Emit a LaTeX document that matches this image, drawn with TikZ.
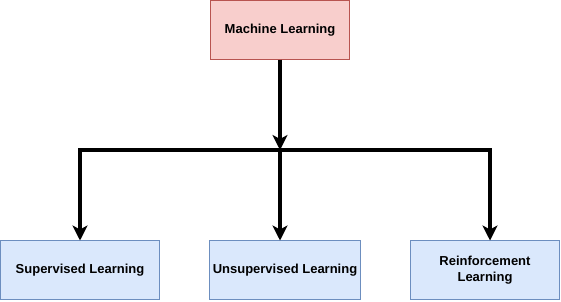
\documentclass[tikz,border=0pt]{standalone}
\usepackage{fontspec}
\setmainfont{Liberation Sans}
\usetikzlibrary{arrows.meta,positioning}

\definecolor{rootfill}{HTML}{F8CECC}
\definecolor{rootline}{HTML}{B85450}
\definecolor{leaffill}{HTML}{DAE8FC}
\definecolor{leafline}{HTML}{6C8EBF}

\begin{document}
\begin{tikzpicture}[x=1pt, y=-1pt,
    rootbox/.style={draw=rootline, fill=rootfill, line width=1pt, outer sep=0pt,
      minimum width=139pt, minimum height=59pt, align=center,
      font=\fontsize{13}{16}\selectfont\bfseries},
    leafbox/.style={draw=leafline, fill=leaffill, line width=1pt, outer sep=0pt,
      minimum width=149pt, minimum height=59pt, align=center,
      font=\fontsize{13}{16}\selectfont\bfseries},
    link/.style={line width=3.2pt, -{Stealth[length=15pt, width=15pt, inset=4pt]}}]
  \useasboundingbox (0,0) rectangle (561,301);

  % Wurzel
  \node[rootbox] (ml) at (280,30) {Machine Learning};

  % Drei Zweige
  \node[leafbox, minimum width=159pt] (sup) at (80,270) {Supervised Learning};
  \node[leafbox] (uns) at (285,270) {Unsupervised Learning};
  \node[leafbox] (rl) at (485,270) {Reinforcement\\Learning};

  % Verbindungen
  \coordinate (split) at (280,150);
  \draw[link] (ml.south) -- (split);
  \draw[line width=3.2pt] ([xshift=-1.6pt]split) -- ([xshift=1.6pt]split);
  \draw[link] (split) -| (sup.north);
  \draw[link] (split) -- (ml |- uns.north);
  \draw[link] (split) -| ([xshift=5pt]rl.north);
\end{tikzpicture}
\end{document}
